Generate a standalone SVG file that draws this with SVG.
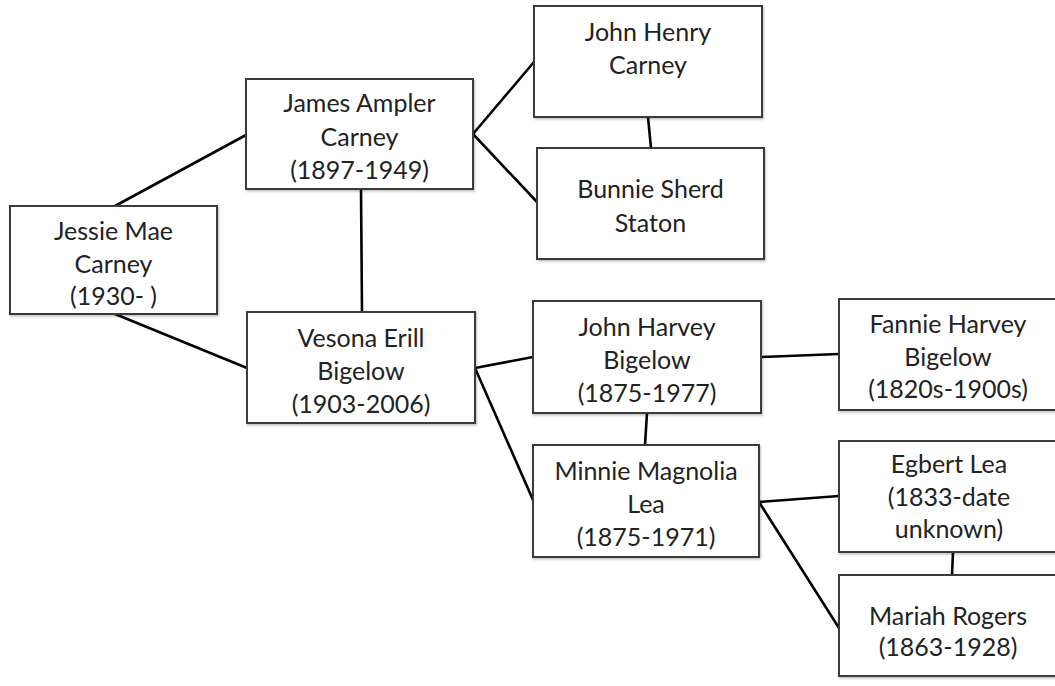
<svg xmlns="http://www.w3.org/2000/svg" width="1055" height="686" viewBox="0 0 1055 686">
<style>
.box{fill:#ffffff;stroke:#3a3a3a;stroke-width:2}
.lbl{font-family:Lato,"Liberation Sans",sans-serif;font-size:25px;fill:#222;text-anchor:middle}
.con line{stroke:#000;stroke-width:2.6;stroke-linecap:round}
</style>
<defs>
<filter id="sh" x="-5%" y="-5%" width="115%" height="115%">
<feDropShadow dx="1" dy="1.5" stdDeviation="1" flood-color="#000" flood-opacity="0.25"/>
</filter>
</defs>
<rect width="1055" height="686" fill="#ffffff"/>
<g id="connectors" class="con">
<line x1="115" y1="206" x2="246" y2="135"/>
<line x1="115" y1="314" x2="247" y2="368"/>
<line x1="361" y1="189" x2="362" y2="312"/>
<line x1="473" y1="134" x2="534" y2="62"/>
<line x1="473" y1="134" x2="537" y2="202"/>
<line x1="648" y1="117" x2="651" y2="148"/>
<line x1="475" y1="368" x2="533" y2="357"/>
<line x1="475" y1="368" x2="533" y2="500"/>
<line x1="647" y1="413" x2="645" y2="445"/>
<line x1="761" y1="357" x2="839" y2="354"/>
<line x1="759" y1="502" x2="839" y2="496"/>
<line x1="759" y1="502" x2="839" y2="628"/>
<line x1="953" y1="552" x2="952" y2="575"/>
</g>
<g id="jessie">
<rect class="box" filter="url(#sh)" x="10" y="206" width="207" height="108"/>
<text class="lbl" x="113.5" y="240">Jessie Mae</text>
<text class="lbl" x="113.5" y="273">Carney</text>
<text class="lbl" x="113.5" y="305">(1930- )</text>
</g>
<g id="james">
<rect class="box" filter="url(#sh)" x="246" y="79" width="227" height="110"/>
<text class="lbl" x="359.5" y="112">James Ampler</text>
<text class="lbl" x="359.5" y="146">Carney</text>
<text class="lbl" x="359.5" y="179">(1897-1949)</text>
</g>
<g id="johnhenry">
<rect class="box" filter="url(#sh)" x="534" y="6" width="228" height="111"/>
<text class="lbl" x="648" y="41">John Henry</text>
<text class="lbl" x="648" y="74">Carney</text>
</g>
<g id="bunnie">
<rect class="box" filter="url(#sh)" x="537" y="148" width="227" height="111"/>
<text class="lbl" x="650.5" y="198">Bunnie Sherd</text>
<text class="lbl" x="650.5" y="232">Staton</text>
</g>
<g id="vesona">
<rect class="box" filter="url(#sh)" x="247" y="312" width="228" height="111"/>
<text class="lbl" x="361" y="347">Vesona Erill</text>
<text class="lbl" x="361" y="380">Bigelow</text>
<text class="lbl" x="361" y="413">(1903-2006)</text>
</g>
<g id="johnharvey">
<rect class="box" filter="url(#sh)" x="533" y="301" width="228" height="112"/>
<text class="lbl" x="647" y="336">John Harvey</text>
<text class="lbl" x="647" y="369">Bigelow</text>
<text class="lbl" x="647" y="402">(1875-1977)</text>
</g>
<g id="minnie">
<rect class="box" filter="url(#sh)" x="533" y="445" width="226" height="112"/>
<text class="lbl" x="646" y="480">Minnie Magnolia</text>
<text class="lbl" x="646" y="513">Lea</text>
<text class="lbl" x="646" y="546">(1875-1971)</text>
</g>
<g id="fannie">
<rect class="box" filter="url(#sh)" x="839" y="299" width="220" height="111"/>
<text class="lbl" x="948" y="333">Fannie Harvey</text>
<text class="lbl" x="948" y="366">Bigelow</text>
<text class="lbl" x="948" y="398">(1820s-1900s)</text>
</g>
<g id="egbert">
<rect class="box" filter="url(#sh)" x="839" y="441" width="220" height="111"/>
<text class="lbl" x="949" y="473">Egbert Lea</text>
<text class="lbl" x="949" y="506">(1833-date</text>
<text class="lbl" x="949" y="538">unknown)</text>
</g>
<g id="mariah">
<rect class="box" filter="url(#sh)" x="839" y="575" width="220" height="101"/>
<text class="lbl" x="948" y="625">Mariah Rogers</text>
<text class="lbl" x="948" y="656">(1863-1928)</text>
</g>
</svg>
